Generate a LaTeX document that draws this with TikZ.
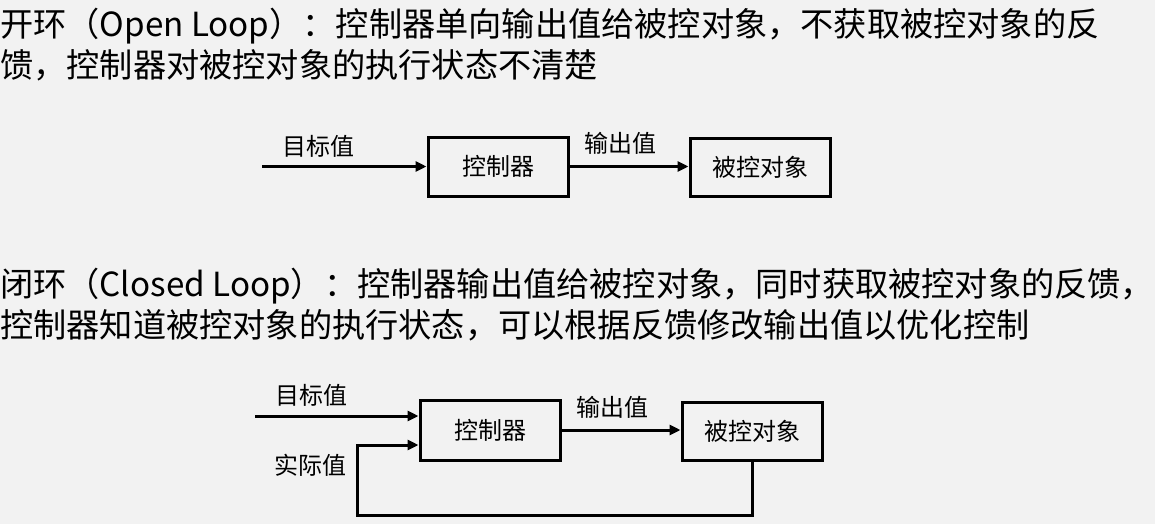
\documentclass[tikz,border=0pt]{standalone}
\usepackage{fontspec}
\setmainfont{Noto Sans CJK SC}
\usepackage{tikz}
\usetikzlibrary{arrows.meta,positioning}
\definecolor{LOOPbg}{HTML}{F2F2F2}
\definecolor{LOOPink}{HTML}{000000}
\tikzset{loopbox/.style={draw=LOOPink,line width=3pt,fill=LOOPbg,
 minimum width=140pt,minimum height=59pt,inner sep=0pt,
 font=\fontsize{24}{28}\selectfont},
 looparr/.style={-{Triangle[length=11pt,width=10pt]},line width=3pt,draw=LOOPink},
 looplab/.style={inner sep=0pt,font=\fontsize{24}{28}\selectfont},
 looptext/.style={anchor=north west,inner sep=0pt,align=left,
 font=\fontsize{33.2}{41}\selectfont}}

\begin{document}
\begin{tikzpicture}[x=1pt,y=-1pt]
\fill[LOOPbg] (0,0) rectangle (1155,524);
\useasboundingbox (0,0) rectangle (1155,524);
% open loop
\node[looptext] (opentext) at (0,8)
 {开环（Open Loop）：控制器单向输出值给被控对象，不获取被控对象的反\\馈，控制器对被控对象的执行状态不清楚};
\node[loopbox] (ctrlA) at (498,166.5) {控制器};
\node[loopbox,minimum height=58pt] (plantA) at (760,167) {被控对象};
\coordinate (inA) at (262,166.5);
\draw[looparr] (inA) -- (ctrlA.west);
\draw[looparr] (ctrlA.east) -- (ctrlA.east -| plantA.west);
\node[looplab] (goalA) at (318,146) {目标值};
\node[looplab] (outA) at (620,143) {输出值};
% closed loop
\node[looptext] (closedtext) at (0,268)
 {闭环（Closed Loop）：控制器输出值给被控对象，同时获取被控对象的反馈，\\控制器知道被控对象的执行状态，可以根据反馈修改输出值以优化控制};
\node[loopbox,minimum height=60pt] (ctrlB) at (490,430) {控制器};
\node[loopbox,minimum height=58pt] (plantB) at (752,431) {被控对象};
\coordinate (inB) at (255,416);
\coordinate (fbB) at (357,515);
\coordinate (fbupB) at (357,445);
\draw[looparr] (inB) -- (inB -| ctrlB.west);
\draw[looparr] (ctrlB.east) -- (ctrlB.east -| plantB.west);
\draw[looparr] (plantB.south) |- (fbB) -- (fbupB) -- (fbupB -| ctrlB.west);
\node[looplab] (goalB) at (311,395) {目标值};
\node[looplab] (realB) at (310,465) {实际值};
\node[looplab] (outB) at (612,407) {输出值};
\end{tikzpicture}
\end{document}
